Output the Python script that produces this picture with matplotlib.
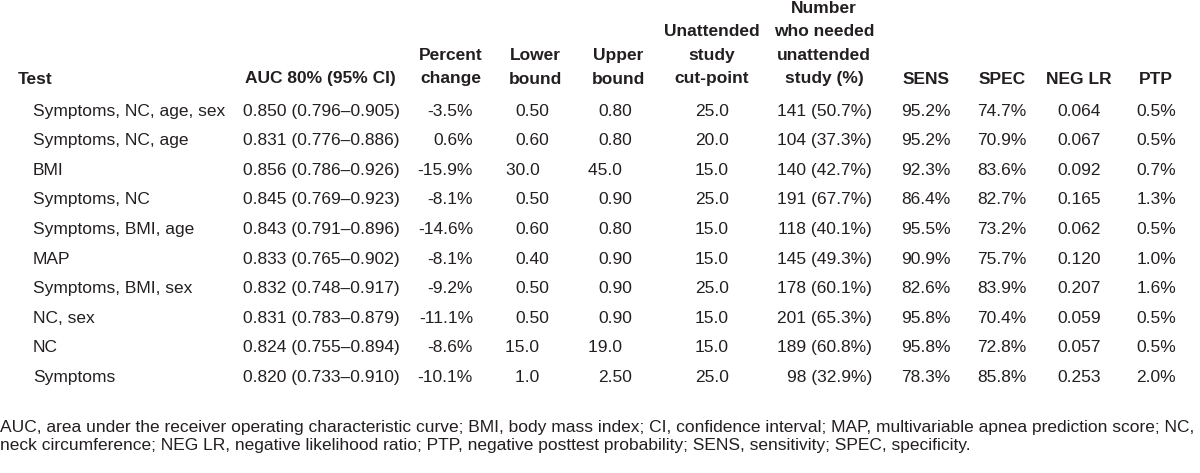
import matplotlib
matplotlib.use('Agg')
import matplotlib.pyplot as plt

plt.rcParams['font.family'] = ['Liberation Sans', 'DejaVu Sans']

# table contents
tests = ["Symptoms, NC, age, sex", "Symptoms, NC, age", "BMI", "Symptoms, NC",
         "Symptoms, BMI, age", "MAP", "Symptoms, BMI, sex", "NC, sex", "NC", "Symptoms"]
auc = ["0.850 (0.796\u20130.905)", "0.831 (0.776\u20130.886)", "0.856 (0.786\u20130.926)",
       "0.845 (0.769\u20130.923)", "0.843 (0.791\u20130.896)", "0.833 (0.765\u20130.902)",
       "0.832 (0.748\u20130.917)", "0.831 (0.783\u20130.879)", "0.824 (0.755\u20130.894)",
       "0.820 (0.733\u20130.910)"]
pct_change = ["-3.5%", "0.6%", "-15.9%", "-8.1%", "-14.6%", "-8.1%", "-9.2%", "-11.1%", "-8.6%", "-10.1%"]
lower = ["0.50", "0.60", "30.0", "0.50", "0.60", "0.40", "0.50", "0.50", "15.0", "1.0"]
upper = ["0.80", "0.80", "45.0", "0.90", "0.80", "0.90", "0.90", "0.90", "19.0", "2.50"]
cutpoint = ["25.0", "20.0", "15.0", "25.0", "15.0", "15.0", "25.0", "15.0", "15.0", "25.0"]
needed = ["141 (50.7%)", "104 (37.3%)", "140 (42.7%)", "191 (67.7%)", "118 (40.1%)",
          "145 (49.3%)", "178 (60.1%)", "201 (65.3%)", "189 (60.8%)", "98 (32.9%)"]
sens = ["95.2%", "95.2%", "92.3%", "86.4%", "95.5%", "90.9%", "82.6%", "95.8%", "95.8%", "78.3%"]
spec = ["74.7%", "70.9%", "83.6%", "82.7%", "73.2%", "75.7%", "83.9%", "70.4%", "72.8%", "85.8%"]
neg_lr = ["0.064", "0.067", "0.092", "0.165", "0.062", "0.120", "0.207", "0.059", "0.057", "0.253"]
ptp = ["0.5%", "0.5%", "0.7%", "1.3%", "0.5%", "1.0%", "1.6%", "0.5%", "0.5%", "2.0%"]

headers = [["Test"], ["AUC 80% (95% CI)"], ["Percent", "change"], ["Lower", "bound"],
           ["Upper", "bound"], ["Unattended", "study", "cut-point"],
           ["Number", "who needed", "unattended", "study (%)"],
           ["SENS"], ["SPEC"], ["NEG LR"], ["PTP"]]

footnote = ["AUC, area under the receiver operating characteristic curve; BMI, body mass index; "
            "CI, confidence interval; MAP, multivariable apnea prediction score; NC,",
            "neck circumference; NEG LR, negative likelihood ratio; PTP, negative posttest "
            "probability; SENS, sensitivity; SPEC, specificity."]

TXT = '#231f20'
FS = 12.5
FIGSP = '\u2007'  # figure space, same width as a digit

fig = plt.figure(figsize=(12, 4.73), dpi=100)
ax = fig.add_axes([0, 0, 1, 1])
ax.set_xlim(0, 1200)
ax.set_ylim(473, 0)
ax.axis('off')

# header: (x, ha) per column
head_pos = [(18, 'left'), (320, 'center'), (451, 'center'), (535, 'center'), (618, 'center'),
            (712, 'center'), (824, 'center'), (926, 'center'), (1002, 'center'),
            (1079, 'center'), (1156, 'center')]
head_bottom = 79
head_step = 23.5
for lines, (hx, ha) in zip(headers, head_pos):
    n = len(lines)
    for k, line in enumerate(lines):
        ax.text(hx, head_bottom - (n - 1 - k) * head_step, line, ha=ha, va='center',
                fontsize=FS, fontweight='bold', color=TXT)

row_y0 = 111
row_step = 29.6


def dec_pad(s, ndec=2):
    # pad with figure spaces so right alignment lines up the decimal points
    d = len(s.split('.')[1])
    return s + FIGSP * (ndec - d)


for i in range(len(tests)):
    y = row_y0 + i * row_step
    ax.text(33, y, tests[i], ha='left', va='center', fontsize=FS, color=TXT)
    ax.text(321, y, auc[i], ha='center', va='center', fontsize=FS, color=TXT)
    ax.text(473, y, pct_change[i], ha='right', va='center', fontsize=FS, color=TXT)
    ax.text(549, y, dec_pad(lower[i]), ha='right', va='center', fontsize=FS, color=TXT)
    ax.text(632, y, dec_pad(upper[i]), ha='right', va='center', fontsize=FS, color=TXT)
    ax.text(712, y, cutpoint[i], ha='center', va='center', fontsize=FS, color=TXT)
    ax.text(872, y, needed[i], ha='right', va='center', fontsize=FS, color=TXT)
    ax.text(926, y, sens[i], ha='center', va='center', fontsize=FS, color=TXT)
    ax.text(1002, y, spec[i], ha='center', va='center', fontsize=FS, color=TXT)
    ax.text(1079, y, neg_lr[i], ha='center', va='center', fontsize=FS, color=TXT)
    ax.text(1156, y, ptp[i], ha='center', va='center', fontsize=FS, color=TXT)

for k, line in enumerate(footnote):
    ax.text(0, 427 + k * 18.5, line, ha='left', va='center', fontsize=12.5, color=TXT)

fig.savefig('out.png', dpi=100)
